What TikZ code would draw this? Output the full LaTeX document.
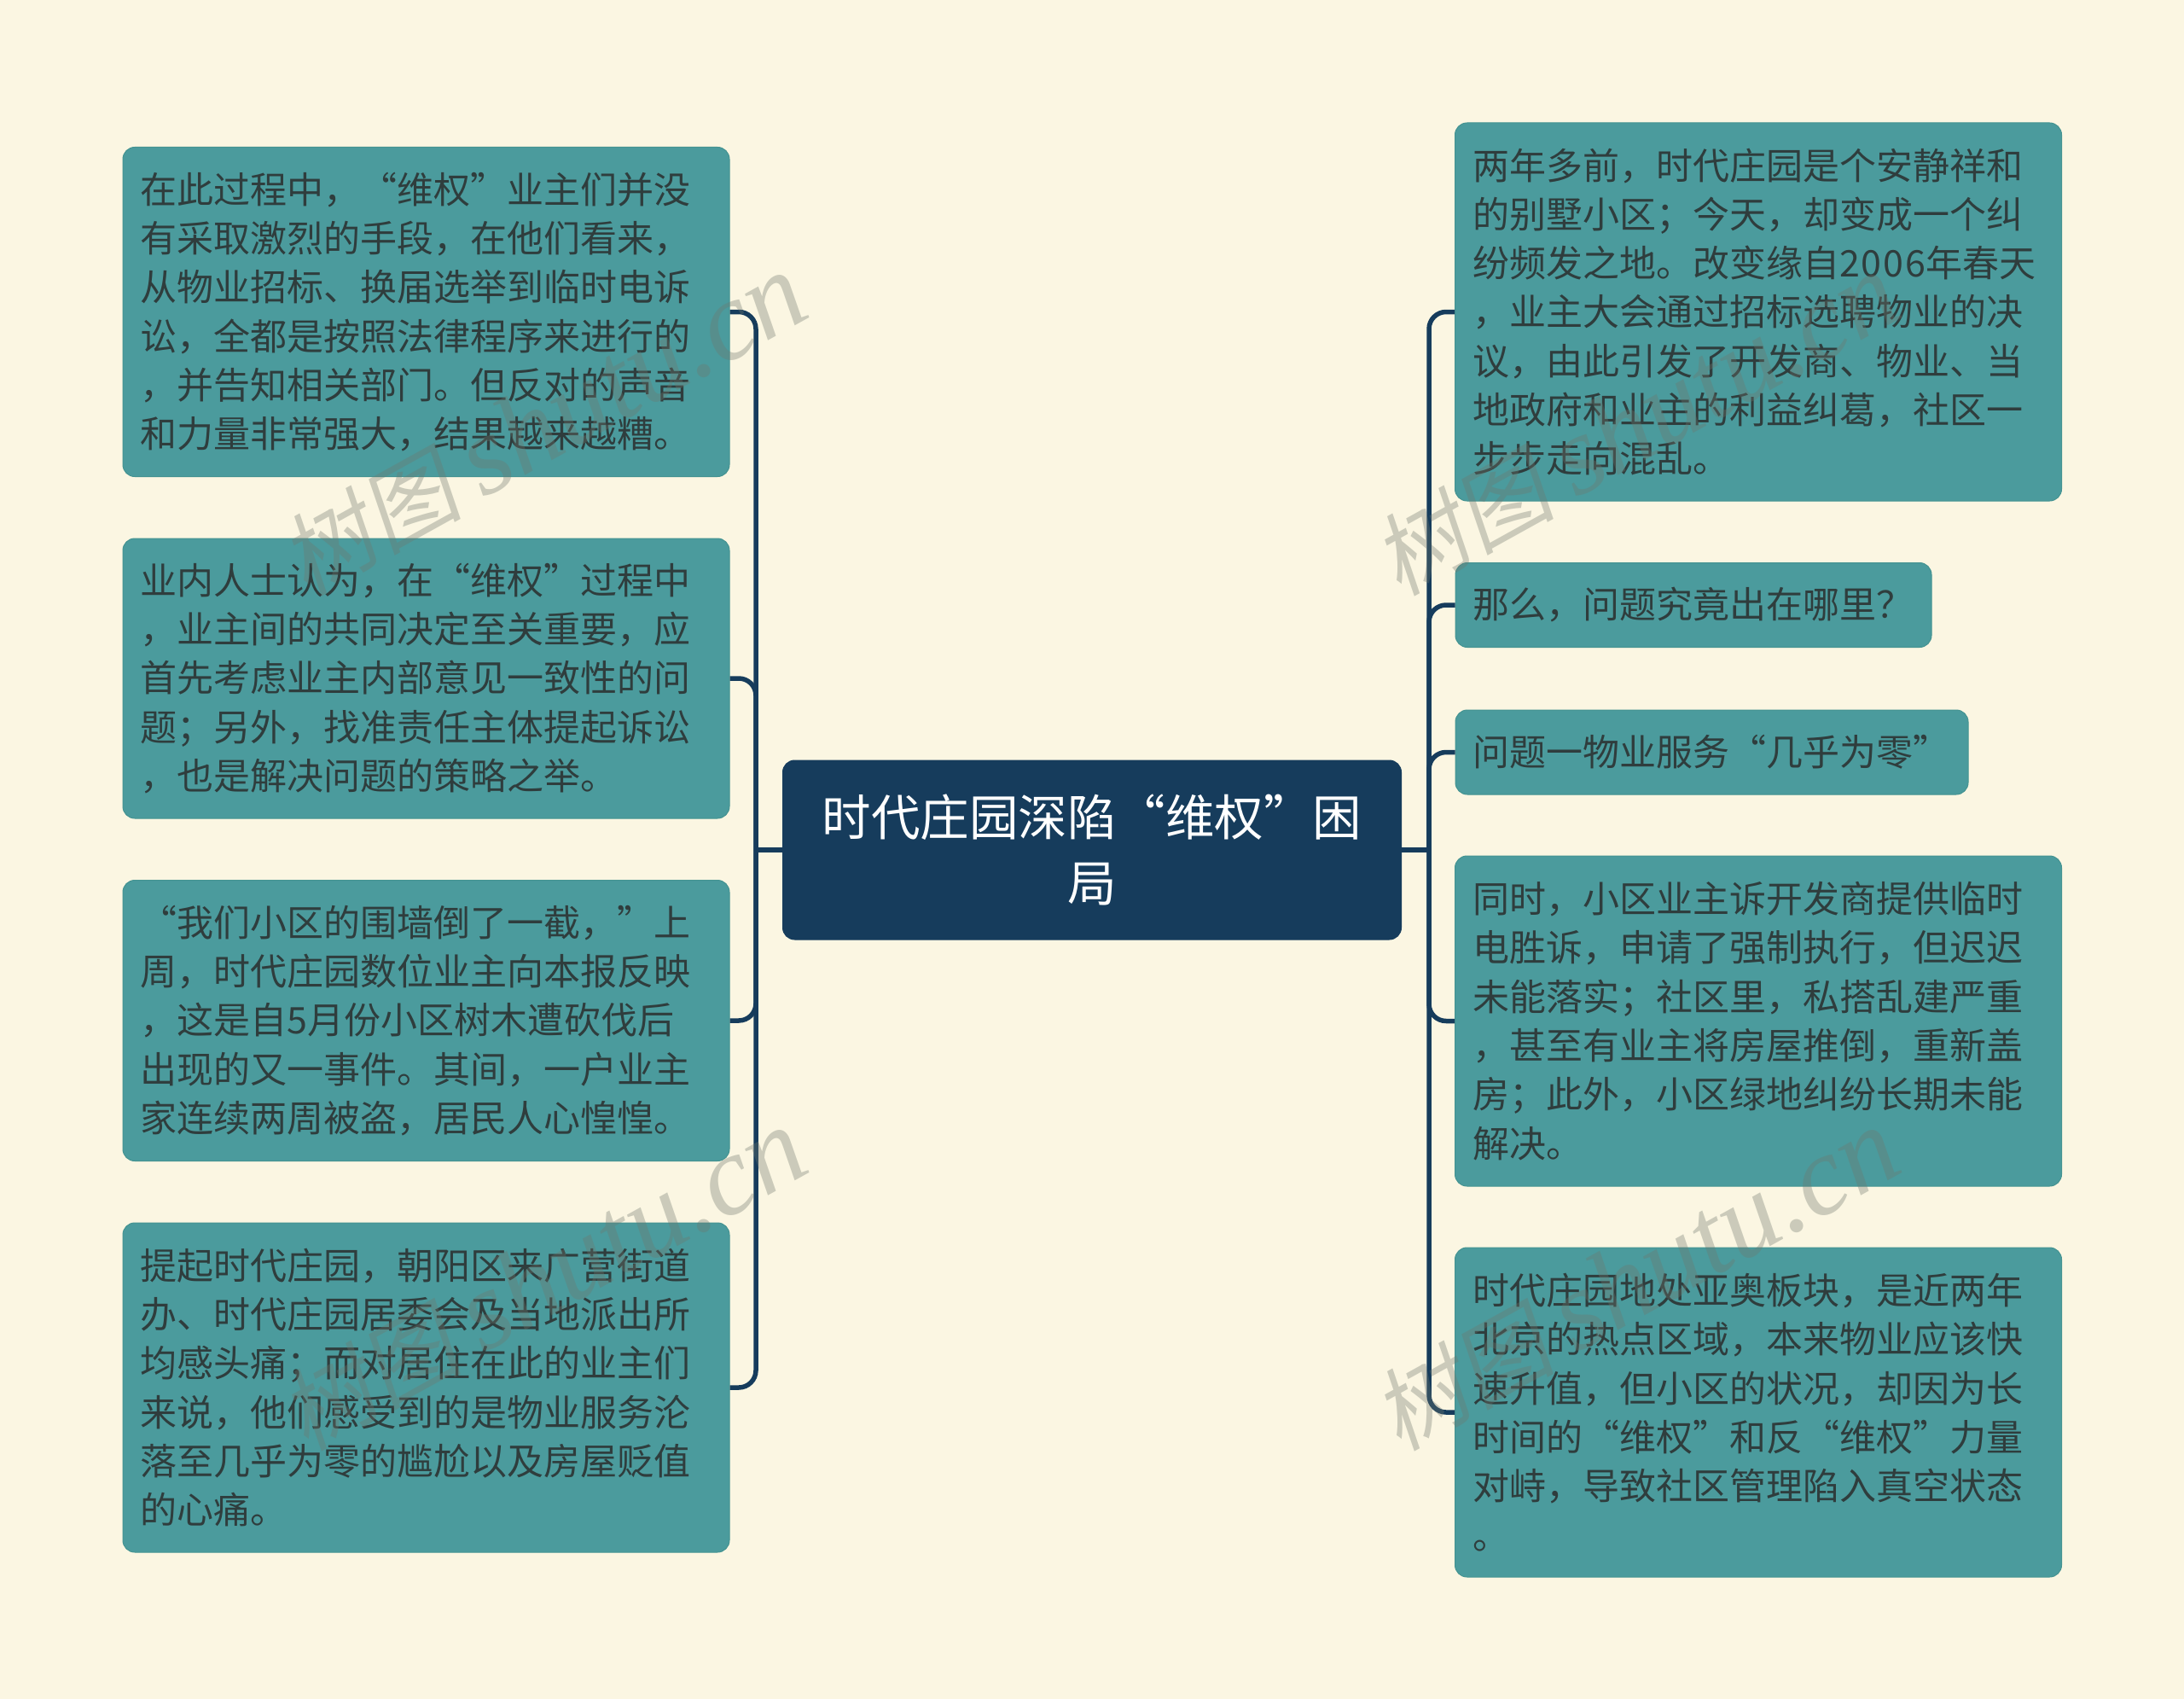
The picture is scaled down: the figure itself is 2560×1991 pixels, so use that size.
\documentclass[tikz,border=0pt]{standalone}
\usepackage{fontspec}
\setmainfont{Noto Sans CJK SC}
\newfontfamily\wmcjk[FakeSlant=0.18]{Noto Sans CJK SC}
\newfontfamily\wmlat{Liberation Serif}
\newcommand{\wdigits}[1]{{\addfontfeature{LetterSpace=4.6}#1}}
\newcommand{\wmark}{{\fontsize{106}{130}\selectfont\wmcjk 树图}\hspace{24pt}{\fontsize{132}{130}\selectfont\wmlat\itshape shutu.cn}}
\definecolor{bgc}{HTML}{FBF6E2}
\definecolor{leafc}{HTML}{4B9B9D}
\definecolor{leafb}{HTML}{449391}
\definecolor{rootc}{HTML}{163C5C}
\definecolor{txtc}{HTML}{2F3D3D}
\definecolor{wmc}{HTML}{6F776D}
\tikzset{
  leaf/.style={rectangle,rounded corners=14pt,fill=leafc,draw=leafb,line width=1pt,
    inner sep=0pt,text=txtc,align=left,text width=670pt,
    font=\fontsize{43}{57.3}\selectfont},
  rootbox/.style={rectangle,rounded corners=14pt,fill=rootc,draw=rootc,line width=1pt,
    inner sep=0pt,text=white,align=center,text width=660pt,minimum width=725pt,minimum height=210pt,
    font=\fontsize{57.5}{76.7}\selectfont},
  conn/.style={draw=rootc,line width=5.5pt,rounded corners=20pt},
  stem/.style={draw=rootc,line width=5.5pt},
  wm/.style={text=wmc,opacity=0.34,text opacity=0.34,rotate=29,inner sep=0pt}
}
\begin{document}
\begin{tikzpicture}[x=1pt,y=-1pt]
\useasboundingbox[fill=bgc] (0,0) rectangle (2560,1991);
\coordinate (jl) at (886,996);
\coordinate (jr) at (1675,996);
\node[rootbox] (root) at (1280,996) {时代庄园深陷“维权”困\\局};
\node[leaf,minimum width=711pt,minimum height=386pt] (l1) at (499.5,365.5) {在此过程中，“维权”业主们并没\\有采取激烈的手段，在他们看来，\\从物业招标、换届选举到临时电诉\\讼，全都是按照法律程序来进行的\\，并告知相关部门。但反对的声音\\和力量非常强大，结果越来越糟。};
\node[leaf,minimum width=711pt,minimum height=328pt] (l2) at (499.5,795) {业内人士认为，在“维权”过程中\\，业主间的共同决定至关重要，应\\首先考虑业主内部意见一致性的问\\题；另外，找准责任主体提起诉讼\\，也是解决问题的策略之举。};
\node[leaf,minimum width=711pt,minimum height=329pt] (l3) at (499.5,1196) {“我们小区的围墙倒了一截，”上\\周，时代庄园数位业主向本报反映\\，这是自\wdigits{5}月份小区树木遭砍伐后\\出现的又一事件。其间，一户业主\\家连续两周被盗，居民人心惶惶。};
\node[leaf,minimum width=711pt,minimum height=386pt] (l4) at (499.5,1626) {提起时代庄园，朝阳区来广营街道\\办、时代庄园居委会及当地派出所\\均感头痛；而对居住在此的业主们\\来说，他们感受到的是物业服务沦\\落至几乎为零的尴尬以及房屋贬值\\的心痛。};
\node[leaf,minimum width=711pt,minimum height=443pt] (r1) at (2061,365.5) {两年多前，时代庄园是个安静祥和\\的别墅小区；今天，却变成一个纠\\纷频发之地。改变缘自\wdigits{2006}年春天\\，业主大会通过招标选聘物业的决\\议，由此引发了开发商、物业、当\\地政府和业主的利益纠葛，社区一\\步步走向混乱。};
\node[leaf,text width=517pt,minimum width=558pt,minimum height=99pt] (r2) at (1985,709) {那么，问题究竟出在哪里？};
\node[leaf,text width=560pt,minimum width=601pt,minimum height=99pt] (r3) at (2006.5,881.5) {问题一物业服务“几乎为零”};
\node[leaf,minimum width=711pt,minimum height=387pt] (r4) at (2061,1196.5) {同时，小区业主诉开发商提供临时\\电胜诉，申请了强制执行，但迟迟\\未能落实；社区里，私搭乱建严重\\，甚至有业主将房屋推倒，重新盖\\房；此外，小区绿地纠纷长期未能\\解决。};
\node[leaf,minimum width=711pt,minimum height=386pt] (r5) at (2061,1655) {时代庄园地处亚奥板块，是近两年\\北京的热点区域，本来物业应该快\\速升值，但小区的状况，却因为长\\时间的“维权”和反“维权”力量\\对峙，导致社区管理陷入真空状态\\。};
\draw[stem] (root.west) -- (jl);
\draw[stem] (root.east) -- (jr);
\draw[conn] (jl) |- (l1.east);
\draw[conn] (jl) |- (l2.east);
\draw[conn] (jl) |- (l3.east);
\draw[conn] (jl) |- (l4.east);
\draw[conn] (jr) |- (r1.west);
\draw[conn] (jr) |- (r2.west);
\draw[conn] (jr) |- (r3.west);
\draw[conn] (jr) |- (r4.west);
\draw[conn] (jr) |- (r5.west);
\node[wm] (w1) at (637,498) {\wmark};
\node[wm] (w2) at (1918,498) {\wmark};
\node[wm] (w3) at (637,1500) {\wmark};
\node[wm] (w4) at (1918,1500) {\wmark};
\end{tikzpicture}
\end{document}
